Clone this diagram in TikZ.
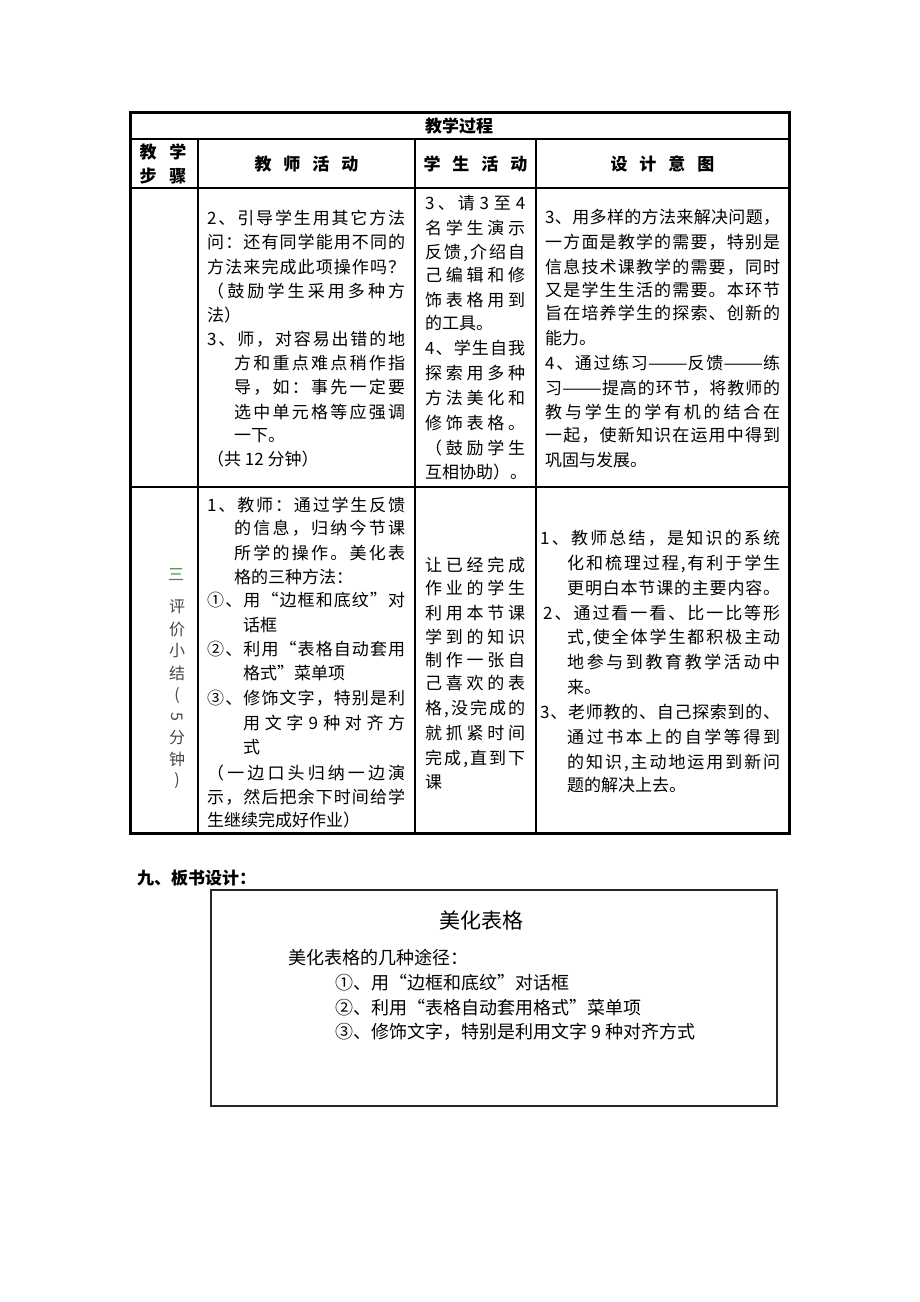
\documentclass[tikz,border=0pt]{standalone}
\usepackage{graphicx}
\usepackage{fontspec}
\newfontfamily\cjk{Noto Sans CJK SC}
\XeTeXinterchartokenstate=1
\newXeTeXintercharclass\cjkcls
\newcount\cjkc
\def\setcjkrange#1#2{\cjkc=#1\relax\loop\XeTeXcharclass\cjkc=\cjkcls\advance\cjkc by 1\relax\ifnum\cjkc<#2\repeat}
\setcjkrange{"4E00}{"A000}
\setcjkrange{"3000}{"3040}
\setcjkrange{"FF00}{"FFF0}
\setcjkrange{"2460}{"2474}
\setcjkrange{"201C}{"201E}
\XeTeXinterchartoks\cjkcls\cjkcls={\hskip0pt plus 6pt\relax}
\XeTeXinterchartoks\cjkcls 0={\hskip0pt plus 6pt\relax}
\XeTeXinterchartoks 0\cjkcls={\hskip0pt plus 6pt\relax}
\newcommand\jl[2]{\makebox[#1][s]{#2}}
\newcommand\ddash{\scalebox{1.4}[1]{——}}
\tikzset{
  tx/.style={anchor=west, inner sep=0pt, text height=15pt, text depth=2pt, font=\cjk\fontsize{17}{20}\selectfont},
  hd/.style={anchor=center, inner sep=0pt, font=\cjk\bfseries\fontsize{17}{20}\selectfont},
  vt/.style={anchor=center, inner sep=0pt, text=black!72, font=\cjk\fontsize{16}{18}\selectfont},
  bx/.style={anchor=west, inner sep=0pt, text height=16pt, text depth=2pt, font=\cjk\fontsize{18}{22}\selectfont},
  grid/.style={line width=1.2pt, draw=black},
  outer/.style={line width=3pt, draw=black}
}
\begin{document}
\begin{tikzpicture}[x=1pt,y=-1pt]
\useasboundingbox[fill=white] (0,0) rectangle (920,1302);
% ---------- table grid ----------
\draw[grid] (130,139) -- (789,139);
\draw[grid] (130,188) -- (789,188);
\draw[grid] (130,487) -- (789,487);
\draw[grid] (198,139) -- (198,833);
\draw[grid] (415,139) -- (415,833);
\draw[grid] (536,139) -- (536,833);
\draw[outer] (130,112) rectangle (789,833);
% ---------- headers ----------
\node[hd] (title) at (459,126) {教学过程};
\node[hd] (h1a) at (163,152) {教\hspace{13pt}学};
\node[hd] (h1b) at (163,176) {步\hspace{13pt}骤};
\node[hd] (h2) at (306.5,164) {教\hspace{12pt}师\hspace{12pt}活\hspace{12pt}动};
\node[hd] (h3) at (475.5,164) {学\hspace{12pt}生\hspace{12pt}活\hspace{12pt}动};
\node[hd] (h4) at (662.5,164) {设\hspace{12pt}计\hspace{12pt}意\hspace{12pt}图};
% ---------- row 1, column 2 ----------
\node[tx] (a1) at (207,218) {\jl{198pt}{2、引导学生用其它方法}};
\node[tx] (a2) at (207,242) {\jl{198pt}{问：还有同学能用不同的}};
\node[tx] (a3) at (207,267) {\jl{198pt}{方法来完成此项操作吗？}};
\node[tx] (a4) at (207,291) {\jl{198pt}{（鼓励学生采用多种方}};
\node[tx] (a5) at (207,315) {法）};
\node[tx] (a6) at (207,339) {\jl{198pt}{3、师，对容易出错的地}};
\node[tx] (a7) at (234,363) {\jl{171pt}{方和重点难点稍作指}};
\node[tx] (a8) at (234,387) {\jl{171pt}{导，如：事先一定要}};
\node[tx] (a9) at (234,412) {\jl{171pt}{选中单元格等应强调}};
\node[tx] (a10) at (234,435) {一下。};
\node[tx] (a11) at (207,459) {（共 12 分钟）};
% ---------- row 1, column 3 ----------
\node[tx] (b1) at (425,203) {\jl{100pt}{3、请 3 至 4}};
\node[tx] (b2) at (425,228) {\jl{100pt}{名学生演示}};
\node[tx] (b3) at (425,252) {\jl{100pt}{反馈,介绍自}};
\node[tx] (b4) at (425,275) {\jl{100pt}{己编辑和修}};
\node[tx] (b5) at (425,300) {\jl{100pt}{饰表格用到}};
\node[tx] (b6) at (425,323) {的工具。};
\node[tx] (b7) at (425,348) {\jl{100pt}{4、学生自我}};
\node[tx] (b8) at (425,373) {\jl{100pt}{探索用多种}};
\node[tx] (b9) at (425,398) {\jl{100pt}{方法美化和}};
\node[tx] (b10) at (425,423) {\jl{100pt}{修饰表格。}};
\node[tx] (b11) at (425,448) {\jl{100pt}{（鼓励学生}};
\node[tx] (b12) at (425,472) {互相协助）。};
% ---------- row 1, column 4 ----------
\node[tx] (c1) at (545,217) {\jl{235pt}{3、用多样的方法来解决问题，}};
\node[tx] (c2) at (545,242) {\jl{235pt}{一方面是教学的需要，特别是}};
\node[tx] (c3) at (545,267) {\jl{235pt}{信息技术课教学的需要，同时}};
\node[tx] (c4) at (545,290) {\jl{235pt}{又是学生生活的需要。本环节}};
\node[tx] (c5) at (545,313) {\jl{235pt}{旨在培养学生的探索、创新的}};
\node[tx] (c6) at (545,338) {能力。};
\node[tx] (c7) at (545,363) {\jl{235pt}{4、通过练习\ddash 反馈\ddash 练}};
\node[tx] (c8) at (545,388) {\jl{235pt}{习\ddash 提高的环节，将教师的}};
\node[tx] (c9) at (545,412) {\jl{235pt}{教与学生的学有机的结合在}};
\node[tx] (c10) at (545,435) {\jl{235pt}{一起，使新知识在运用中得到}};
\node[tx] (c11) at (545,460) {巩固与发展。};
% ---------- row 2, column 1 (vertical) ----------
\node[vt, text={rgb,255:red,70;green,135;blue,70}] (v0) at (176,575) {三};
\node[vt] (v1) at (177,607) {评};
\node[vt] (v2) at (177,629) {价};
\node[vt] (v3) at (177,651) {小};
\node[vt] (v4) at (177,673) {结};
\node[vt] (v5) at (177,696) {(};
\node[vt, rotate=-90] (v6) at (177,717) {5};
\node[vt] (v7) at (177,738) {分};
\node[vt] (v8) at (177,759) {钟};
\node[vt] (v9) at (177,781) {)};
% ---------- row 2, column 2 ----------
\node[tx] (d1) at (207,505) {\jl{198pt}{1、教师：通过学生反馈}};
\node[tx] (d2) at (234,528) {\jl{171pt}{的信息，归纳今节课}};
\node[tx] (d3) at (234,553) {\jl{171pt}{所学的操作。美化表}};
\node[tx] (d4) at (234,577) {格的三种方法：};
\node[tx] (d5) at (207,600) {\jl{198pt}{①、用“边框和底纹”对}};
\node[tx] (d6) at (243,625) {话框};
\node[tx] (d7) at (207,649) {\jl{198pt}{②、利用“表格自动套用}};
\node[tx] (d8) at (243,673) {格式”菜单项};
\node[tx] (d9) at (207,698) {\jl{198pt}{③、修饰文字，特别是利}};
\node[tx] (d10) at (243,723) {\jl{162pt}{用文字 9 种对齐方}};
\node[tx] (d11) at (243,747) {式};
\node[tx] (d12) at (207,773) {\jl{198pt}{（一边口头归纳一边演}};
\node[tx] (d13) at (207,797) {\jl{198pt}{示，然后把余下时间给学}};
\node[tx] (d14) at (207,820) {生继续完成好作业）};
% ---------- row 2, column 3 ----------
\node[tx] (e1) at (425,565) {\jl{100pt}{让已经完成}};
\node[tx] (e2) at (425,588) {\jl{100pt}{作业的学生}};
\node[tx] (e3) at (425,613) {\jl{100pt}{利用本节课}};
\node[tx] (e4) at (425,637) {\jl{100pt}{学到的知识}};
\node[tx] (e5) at (425,660) {\jl{100pt}{制作一张自}};
\node[tx] (e6) at (425,683) {\jl{100pt}{己喜欢的表}};
\node[tx] (e7) at (425,708) {\jl{100pt}{格,没完成的}};
\node[tx] (e8) at (425,733) {\jl{100pt}{就抓紧时间}};
\node[tx] (e9) at (425,758) {\jl{100pt}{完成,直到下}};
\node[tx] (e10) at (425,782) {课};
% ---------- row 2, column 4 ----------
\node[tx] (f1) at (540,538) {\jl{240pt}{1、教师总结，是知识的系统}};
\node[tx] (f2) at (567,563) {\jl{213pt}{化和梳理过程,有利于学生}};
\node[tx] (f3) at (567,588) {\jl{213pt}{更明白本节课的主要内容。}};
\node[tx] (f4) at (543,613) {\jl{237pt}{2、通过看一看、比一比等形}};
\node[tx] (f5) at (567,637) {\jl{213pt}{式,使全体学生都积极主动}};
\node[tx] (f6) at (567,662) {\jl{213pt}{地参与到教育教学活动中}};
\node[tx] (f7) at (567,687) {来。};
\node[tx] (f8) at (540,712) {\jl{240pt}{3、老师教的、自己探索到的、}};
\node[tx] (f9) at (567,737) {\jl{213pt}{通过书本上的自学等得到}};
\node[tx] (f10) at (567,762) {\jl{213pt}{的知识,主动地运用到新问}};
\node[tx] (f11) at (567,785) {题的解决上去。};
% ---------- board design ----------
\node[tx, font=\cjk\bfseries\fontsize{17}{20}\selectfont] (sec) at (137,878) {九、板书设计：};
\draw[line width=1.2pt, draw=black!85] (211,890) rectangle (777,1106);
\node[anchor=center, inner sep=0pt, font=\cjk\fontsize{21}{24}\selectfont] (btitle) at (481,920) {美化表格};
\node[bx] (bl0) at (288,957) {美化表格的几种途径：};
\node[bx] (bl1) at (335,982) {①、用“边框和底纹”对话框};
\node[bx] (bl2) at (335,1007) {②、利用“表格自动套用格式”菜单项};
\node[bx] (bl3) at (335,1031) {③、修饰文字，特别是利用文字 9 种对齐方式};
\end{tikzpicture}
\end{document}
